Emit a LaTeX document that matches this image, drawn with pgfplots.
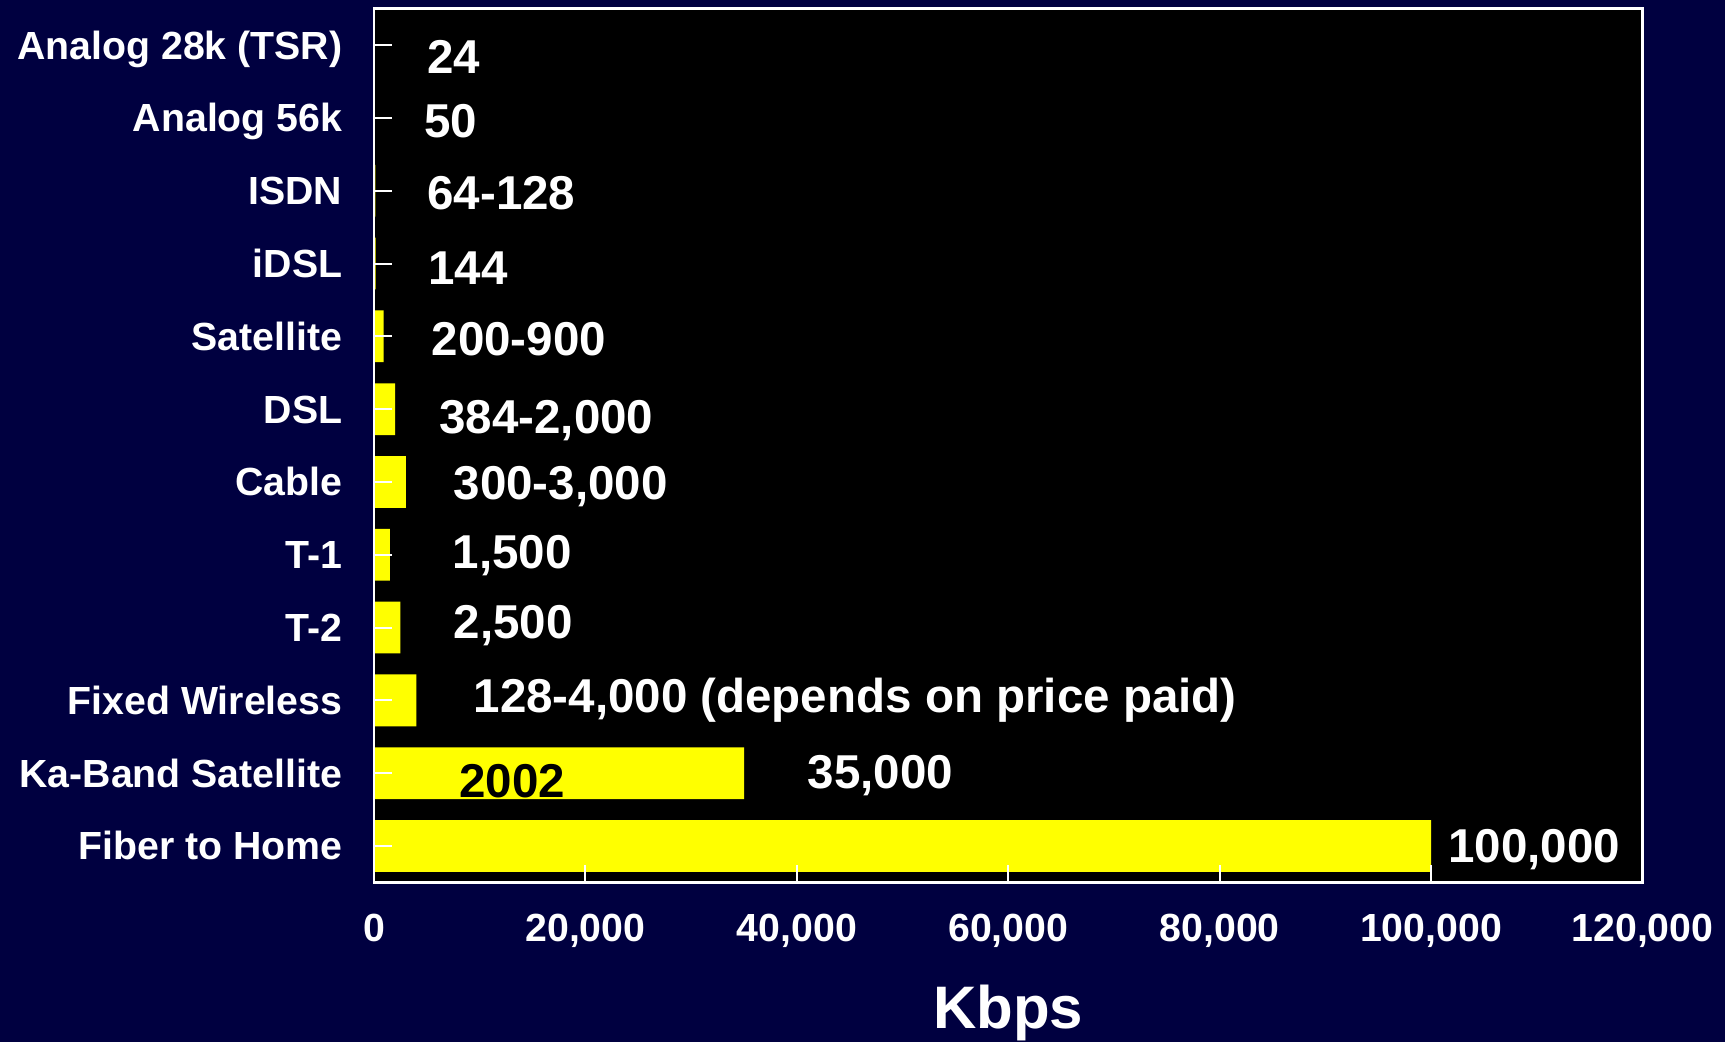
\documentclass[border=0pt]{standalone}
\usepackage{pgfplots}
\pgfplotsset{compat=1.18}
\usepackage{fontspec}
\setmainfont{Liberation Sans}
\definecolor{bgnavy}{RGB}{0,0,64}
\definecolor{baryellow}{RGB}{255,255,0}
\tikzset{vl/.style={anchor=base west, text=white, font=\fontsize{19}{22}\selectfont\bfseries, inner sep=0pt, yshift=-6.8pt}}
\begin{document}
\begin{tikzpicture}
\fill[bgnavy] (-149.6pt,-63.8pt) rectangle (540.3pt,352.9pt);
\useasboundingbox (-149.6pt,-63.8pt) rectangle (540.3pt,352.9pt);
\begin{axis}[
  at={(0,0)}, anchor=south west,
  scale only axis, width=507.3pt, height=349.4pt,
  xbar, bar width=20.7pt,
  xmin=0, xmax=120000,
  ymin=-0.5, ymax=11.5, y dir=reverse,
  scaled x ticks=false,
  axis background/.style={fill=black},
  axis line style={white, line width=1pt},
  tick style={white, line width=0.8pt},
  tick align=inside,
  tick pos=left,
  major tick length=7pt,
  xtick={0,20000,40000,60000,80000,100000,120000},
  xticklabels={0,{20,000},{40,000},{60,000},{80,000},{100,000},{120,000}},
  ytick={0,1,2,3,4,5,6,7,8,9,10,11},
  yticklabels={Analog 28k (TSR),Analog 56k,ISDN,iDSL,Satellite,DSL,Cable,T-1,T-2,Fixed Wireless,Ka-Band Satellite,Fiber to Home},
  ticklabel style={text=white, font=\fontsize{15.7}{18}\selectfont\bfseries, inner sep=0pt},
  xticklabel style={anchor=base, yshift=-23.5pt},
  yticklabel style={anchor=base east, xshift=-12.5pt, yshift=-5.6pt},
  xlabel={Kbps},
  xlabel style={text=white, font=\fontsize{24}{28}\selectfont\bfseries, at={(axis description cs:0.5,0)}, anchor=base, yshift=-58.5pt, inner sep=0pt},
  axis on top,
  clip=false,
]
\addplot[fill=baryellow, draw=none] coordinates {(24,0) (50,1) (128,2) (144,3) (900,4) (2000,5) (3000,6) (1500,7) (2500,8) (4000,9) (35000,10) (100000,11)};
\node[vl] at (axis cs:5000,0.15) {24};
\node[vl] at (axis cs:4680,1.03) {50};
\node[vl] at (axis cs:5000,2.02) {64-128};
\node[vl] at (axis cs:5100,3.05) {144};
\node[vl] at (axis cs:5410,4.03) {200-900};
\node[vl] at (axis cs:6140,5.1) {384-2,000};
\node[vl] at (axis cs:7490,6.01) {300-3,000};
\node[vl] at (axis cs:7390,6.96) {1,500};
\node[vl] at (axis cs:7490,7.92) {2,500};
\node[vl] at (axis cs:9370,8.93) {128-4,000 (depends on price paid)};
\node[vl] at (axis cs:41000,9.97) {35,000};
\node[vl] at (axis cs:101580,11.0) {100,000};
\node[vl, text=black] at (axis cs:8010,10.1) {2002};
\end{axis}
\end{tikzpicture}
\end{document}
